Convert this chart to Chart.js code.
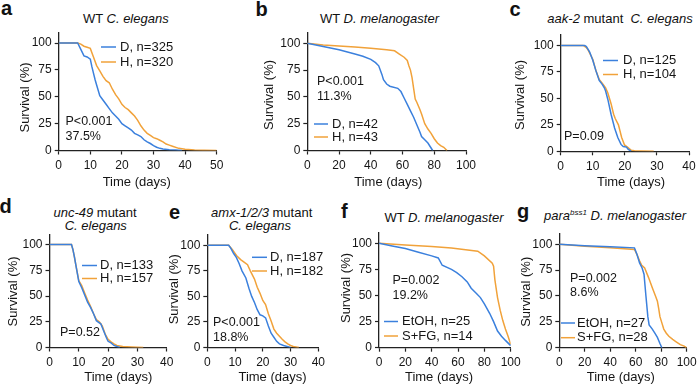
<!DOCTYPE html>
<html><head><meta charset="utf-8">
<script src="https://cdn.jsdelivr.net/npm/chart.js@4/dist/chart.umd.min.js"></script>
<style>
html,body{margin:0;padding:0;background:#fff;}
#fig{position:relative;width:700px;height:390px;overflow:hidden;font-family:"Liberation Sans",Arial,Helvetica,sans-serif;color:#111;}
canvas{position:absolute;}
.lt{position:absolute;font-weight:bold;font-size:20px;line-height:20px;}
.tt{position:absolute;font-size:13px;line-height:13px;white-space:nowrap;transform:translate(-50%,-50%);}
.tt sup{font-size:8px;line-height:0;vertical-align:5px;font-style:italic;}
</style></head><body>
<div id="fig">
  <div class="lt" style="left:1px;top:-2px">a</div>
  <div class="lt" style="left:255.5px;top:-1px">b</div>
  <div class="lt" style="left:509.5px;top:-1px">c</div>
  <div class="lt" style="left:-0.5px;top:196px">d</div>
  <div class="lt" style="left:169px;top:202px">e</div>
  <div class="lt" style="left:341px;top:201px">f</div>
  <div class="lt" style="left:517px;top:201px">g</div>
  <div class="tt" style="left:125.8px;top:18.3px">WT <i>C. elegans</i></div>
  <div class="tt" style="left:379.5px;top:18.3px">WT <i>D. melanogaster</i></div>
  <div class="tt" style="left:620px;top:18.3px"><i>aak-2</i> mutant&nbsp;&nbsp;<i>C. elegans</i></div>
  <div class="tt" style="left:95px;top:212px"><i>unc-49</i> mutant</div>
  <div class="tt" style="left:95.8px;top:225px"><i>C. elegans</i></div>
  <div class="tt" style="left:261.7px;top:212px"><i>amx-1/2/3</i> mutant</div>
  <div class="tt" style="left:260px;top:225px"><i>C. elegans</i></div>
  <div class="tt" style="left:444px;top:216.7px">WT <i>D. melanogaster</i></div>
  <div class="tt" style="left:615px;top:215px"><i>para</i><sup>bss1</sup> <i>D. melanogaster</i></div>
  <canvas id="ca"></canvas><canvas id="cb"></canvas><canvas id="cc"></canvas>
  <canvas id="cd"></canvas><canvas id="ce"></canvas><canvas id="cf"></canvas><canvas id="cg"></canvas>
</div>
<script>
// ---------------- DATA ----------------
const yTickValues = [0, 25, 50, 75, 100];

// a: WT C. elegans
const a_D_days = [0,6,7,8,9,10,10.5,11,11.5,12,13,14,15,16,17,18,19,20,21,22,23,24,25,26,27,28,29,30,31,32,33,35,37,39];
const a_D_surv = [100,100,94,88,87,85,78,72,66,61,51,47,43,39,35,32,29,25,23,21,19,16,14.5,13,10,8,6.5,4.5,3,2,1.5,0.8,0.4,0];
const a_H_days = [0,6,7,8,9,10,11,12,13,14,15,16,17,18,19,20,21,22,23,24,25,26,27,28,29,30,31,32,33,34,35,36,38,40,43,46,50];
const a_H_surv = [100,100,99,97,96,95,87,79,74,69,65,63,57,52,48,43,40,38,35,32,28,23,19,16,14,12,11,9.5,8,6,5,4,2,1.2,0.5,0.2,0];
const a_labels = ['D, n=325', 'H, n=320'];
const a_stats = ['P<0.001', '37.5%'];

// b: WT D. melanogaster
const b_D_days = [0,10,20,30,35,40,43,45,47,48,50,52,57,59,61,63,65,67,69,71,72,74,76,79];
const b_D_surv = [100,97,94,90,88,85,82,79,71,66,62,60,58,55,49,43,37,31,24,17,13,10,7,0];
const b_H_days = [0,10,20,30,40,50,55,58,61,63,64,65,66,67,68,69,71,72,74,76,78,80,82,84,86,88];
const b_H_surv = [100,98.5,97.5,96.5,95.5,94,93,90,87,84,79,75,68,58,48,45,38,34,25,20,16,11,7,4.5,3,0];
const b_labels = ['D, n=42', 'H, n=43'];
const b_stats = ['P<0.001', '11.3%'];

// c: aak-2 mutant C. elegans
const c_D_days = [0,7.5,8,9,10,11,12,13,13.6,14,14.7,15.7,16.8,17.8,18.8,19.5,20.5,21,22];
const c_D_surv = [100,100,99,94,86,76,67,63,60,57,49,35,22,13,6.5,4.5,4,2,0];
const c_H_days = [0,7,8,8.5,9,10,11,12,13,14,14.7,15.7,16.5,17,18,19,19.9,21,22,23,25,29];
const c_H_surv = [100,100,98,96,93,87,76,68,64,60,55,45,35,31,25,13,6,3.5,1,0.5,0.4,0];
const c_labels = ['D, n=125', 'H, n=104'];
const c_stats = ['P=0.09'];

// d: unc-49 mutant C. elegans
const d_D_days = [0,7.5,8,8.5,9,10,11,12,13,14,15,16,17,17.5,18.5,19.5,20,21,22,23,24];
const d_D_surv = [100,100,95,88,80,64,58,51,44,39,33,26,24,23,16,9,6,4.5,2,1,0];
const d_H_days = [0,7.5,8,8.5,9,10,11,12,13,14,15,16,17,18,19,20,21,22,23,25,28,32];
const d_H_surv = [100,100,95,88,80,65,60,53,46,40,33,27,25,21,13,8,5.5,3.5,2,1,0.5,0];
const d_labels = ['D, n=133', 'H, n=157'];
const d_stats = ['P=0.52'];

// e: amx-1/2/3 mutant C. elegans
const e_D_days = [0,7.7,8.5,9.5,10.5,11.5,12.5,13.9,15,16,17,18,19,20,21,22,23,24,25,26,27.5,30];
const e_D_surv = [100,100,97,92,88,82,75,68,58,50,44,37,32,31,29,21,14,10,6,3.5,2,0];
const e_H_days = [0,7.7,9,10.5,12,13,14.5,15.5,17,18,19,20,21,22,23,24,25,26,27,28,29,30,31,33];
const e_H_surv = [100,100,96,90,86,84,81,75,67,59,53,46,42,33,26,18,14,11,8,5.5,3.5,2,1,0];
const e_labels = ['D, n=187', 'H, n=182'];
const e_stats = ['P<0.001', '18.8%'];

// f: WT D. melanogaster, EtOH vs S+FG
const f_E_days = [0,10,20,30,40,45,48,55,59,63,67,70,74,77,80,84,87,90,93,96,100];
const f_E_surv = [100,97.5,95,91.5,88,86,79,75,72,68,63,57,52,48,42,33,25,16,11,7,2];
const f_S_days = [0,20,40,55,75,80,86,87,88,90,92,94,96,98,100];
const f_S_surv = [100,98.5,97,95.5,92.5,88,81,78,65,48,36,26,18,11,3];
const f_labels = ['EtOH, n=25', 'S+FG, n=14'];
const f_stats = ['P=0.002', '19.2%'];

// g: para(bss1) D. melanogaster
const g_E_days = [0,20,40,59,61,63,65,66.5,68,69.5,70.5,73,75,77,79,80.5];
const g_E_surv = [100,98.5,97.5,96.5,90,82,77,71,50,30,22,18,14,10,4,0];
const g_S_days = [0,20,40,59,61,63,64.5,67,70,73,75.5,77,78,79,80.5,82,84,86,89,92,95,98,100];
const g_S_surv = [100,98,96.5,95,90,84,80,77,68,58,50,45,38,30,24,18,14,11,8,5.5,3,1.5,0];
const g_labels = ['EtOH, n=27', 'S+FG, n=28'];
const g_stats = ['P=0.002', '8.6%'];

// ---------------- STYLE / LAYOUT ----------------
const FONT = '"Liberation Sans", Arial, Helvetica, sans-serif';
const BLUE = '#3b80dd';
const ORANGE = '#f1a23a';
const INK = '#151515';

const overlay = {
  id: 'overlay',
  afterDraw(chart) {
    const p = chart.options.plugins.overlay;
    const ctx = chart.ctx;
    const ox = p.ox, oy = p.oy;
    const ys = chart.scales.y;
    ctx.save();
    ctx.fillStyle = INK;
    ctx.textBaseline = 'middle';
    // axis titles
    ctx.font = '13px ' + FONT;
    ctx.textAlign = 'center';
    ctx.fillText('Time (days)', p.xtX - ox, p.xtY - oy);
    ctx.save();
    ctx.translate(p.ytX - ox, p.ytY - oy);
    ctx.rotate(-Math.PI / 2);
    ctx.fillText('Survival (%)', 0, 0);
    ctx.restore();
    // legend
    ctx.textAlign = 'left';
    chart.data.datasets.forEach((ds, i) => {
      const y = p.legY[i] - oy;
      ctx.strokeStyle = ds.borderColor;
      ctx.lineWidth = 1.5;
      ctx.beginPath();
      ctx.moveTo(p.legX0 - ox, y);
      ctx.lineTo(p.legX1 - ox, y);
      ctx.stroke();
      ctx.fillStyle = INK;
      ctx.font = '13px ' + FONT;
      ctx.fillText(ds.label, p.legTX - ox, y);
    });
    // stats
    ctx.font = '12.5px ' + FONT;
    p.stats.forEach((s, i) => ctx.fillText(s, p.sX - ox, p.sY[i] - oy));
    ctx.restore();
  }
};

function pts(days, surv) { return days.map((d, i) => ({ x: d, y: surv[i] })); }

function build(id, g) {
  const cv = document.getElementById(id);
  const left = Math.floor(g.L) - 52, top = Math.floor(g.T) - 4;
  const right = Math.ceil(g.R) + 14, bottom = Math.ceil(g.B) + 42;
  const w = right - left, h = bottom - top;
  cv.width = w; cv.height = h;
  cv.style.left = left + 'px'; cv.style.top = top + 'px';
  cv.style.width = w + 'px'; cv.style.height = h + 'px';
  const axisCommon = {
    grid: { drawOnChartArea: false, drawTicks: true, tickLength: 4, color: '#222', tickColor: '#222', tickWidth: 1.2 },
    border: { display: true, color: '#222', width: 1.3 },
  };
  new Chart(cv, {
    type: 'line',
    data: {
      datasets: g.series.map(s => ({
        label: s.label, data: pts(s.days, s.surv), borderColor: s.color,
        backgroundColor: s.color, borderWidth: 1.5, pointRadius: 0, tension: 0, fill: false
      }))
    },
    options: {
      responsive: false, animation: false, devicePixelRatio: 1,
      layout: { padding: { left: 0, top: g.T - top, right: right - g.R, bottom: 0 } },
      plugins: {
        legend: { display: false }, tooltip: { enabled: false },
        overlay: Object.assign({ ox: left, oy: top }, g.ov)
      },
      scales: {
        x: Object.assign({
          type: 'linear', min: 0, max: g.xMax,
          ticks: { stepSize: g.xStep, color: INK, font: { size: 12, family: FONT }, padding: 4, maxRotation: 0, autoSkip: false },
          afterFit(s) { s.height = bottom - g.B; s.paddingLeft = 0; s.paddingRight = 0; }
        }, axisCommon),
        y: Object.assign({
          type: 'linear', min: 0, max: 110,
          afterBuildTicks(s) { s.ticks = yTickValues.map(v => ({ value: v })); },
          ticks: { color: INK, font: { size: 12, family: FONT }, padding: 3 },
          afterFit(s) { s.width = g.L - left; s.paddingTop = 0; s.paddingBottom = 0; }
        }, axisCommon)
      }
    },
    plugins: [overlay]
  });
}

build('ca', { L: 58.7, R: 216.7, T: 32.25, B: 150.5, xMax: 50, xStep: 10,
  series: [{ label: a_labels[0], days: a_D_days, surv: a_D_surv, color: BLUE },
           { label: a_labels[1], days: a_H_days, surv: a_H_surv, color: ORANGE }],
  ov: { xtX: 136.7, xtY: 182.7, ytX: 25, ytY: 97.5, legX0: 101, legX1: 116, legTX: 120, legY: [47, 62],
        stats: a_stats, sX: 65.5, sY: [122, 137] } });

build('cb', { L: 307.3, R: 466, T: 32.6, B: 150.5, xMax: 100, xStep: 20,
  series: [{ label: b_labels[0], days: b_D_days, surv: b_D_surv, color: BLUE },
           { label: b_labels[1], days: b_H_days, surv: b_H_surv, color: ORANGE }],
  ov: { xtX: 388.3, xtY: 182.7, ytX: 269, ytY: 95, legX0: 314, legX1: 328, legTX: 332, legY: [124, 137],
        stats: b_stats, sX: 317, sY: [82, 97] } });

build('cc', { L: 560.7, R: 689, T: 34.9, B: 151.3, xMax: 40, xStep: 10,
  series: [{ label: c_labels[0], days: c_D_days, surv: c_D_surv, color: BLUE },
           { label: c_labels[1], days: c_H_days, surv: c_H_surv, color: ORANGE }],
  ov: { xtX: 631, xtY: 182.7, ytX: 520.5, ytY: 95, legX0: 603, legX1: 618, legTX: 623, legY: [60.5, 74.5],
        stats: c_stats, sX: 564, sY: [137] } });

build('cd', { L: 49.5, R: 166.7, T: 234.2, B: 347.5, xMax: 40, xStep: 10,
  series: [{ label: d_labels[0], days: d_D_days, surv: d_D_surv, color: BLUE },
           { label: d_labels[1], days: d_H_days, surv: d_H_surv, color: ORANGE }],
  ov: { xtX: 118.3, xtY: 377.7, ytX: 13.3, ytY: 291.5, legX0: 82, legX1: 97, legTX: 100, legY: [265.5, 278.5],
        stats: d_stats, sX: 60, sY: [333] } });

build('ce', { L: 207.3, R: 318.3, T: 235.1, B: 347.5, xMax: 40, xStep: 10,
  series: [{ label: e_labels[0], days: e_D_days, surv: e_D_surv, color: BLUE },
           { label: e_labels[1], days: e_H_days, surv: e_H_surv, color: ORANGE }],
  ov: { xtX: 272.5, xtY: 377.7, ytX: 174.3, ytY: 289.3, legX0: 252, legX1: 267, legTX: 270, legY: [257.3, 271],
        stats: e_stats, sX: 213, sY: [322.5, 338] } });

build('cf', { L: 379, R: 510.7, T: 232.9, B: 347.7, xMax: 100, xStep: 20,
  series: [{ label: f_labels[0], days: f_E_days, surv: f_E_surv, color: BLUE },
           { label: f_labels[1], days: f_S_days, surv: f_S_surv, color: ORANGE }],
  ov: { xtX: 439, xtY: 377.7, ytX: 346.7, ytY: 288, legX0: 384, legX1: 398, legTX: 402, legY: [321.5, 336],
        stats: f_stats, sX: 392.5, sY: [281, 296] } });

build('cg', { L: 559.3, R: 686.7, T: 233.9, B: 347.7, xMax: 100, xStep: 20,
  series: [{ label: g_labels[0], days: g_E_days, surv: g_E_surv, color: BLUE },
           { label: g_labels[1], days: g_S_days, surv: g_S_surv, color: ORANGE }],
  ov: { xtX: 620.8, xtY: 377.7, ytX: 526.7, ytY: 291.8, legX0: 561, legX1: 575, legTX: 577, legY: [323, 337.7],
        stats: g_stats, sX: 570, sY: [278.5, 293] } });
</script>
</body></html>
